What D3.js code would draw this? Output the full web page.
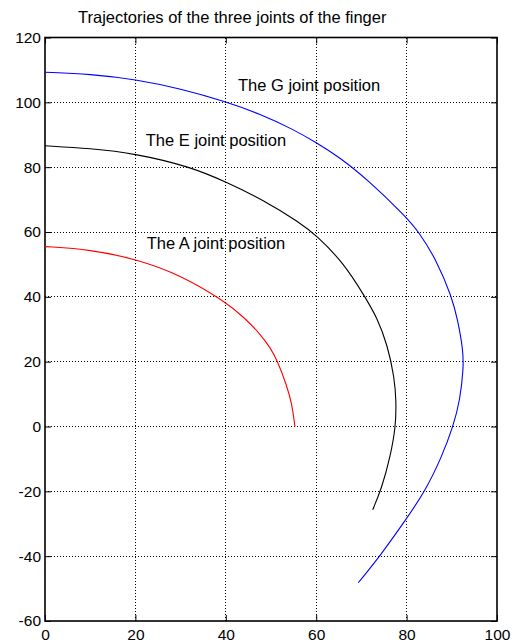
<!DOCTYPE html>
<html>
<head>
<meta charset="utf-8">
<script src="https://cdn.jsdelivr.net/npm/d3@7/dist/d3.min.js"></script>
<style>
  html, body { margin: 0; padding: 0; background: #fff; }
  svg { display: block; font-family: "Liberation Sans", Arial, sans-serif; }
</style>
</head>
<body>
<svg id="chart" width="517" height="644"></svg>
<script>
// Joint trajectories (x, y) in plot units
const jointA = [
  [0, 55.5], [10, 54.6], [20, 51.7], [30, 46.8], [40, 38.4], [44, 33.7],
  [47.6, 28.6], [50, 24], [51.5, 20], [53.5, 12.5], [54.6, 7.2], [55.3, 0]
];
const jointE = [
  [0, 86.6], [10, 85.8], [20, 84.2], [32, 80.2], [40, 75.5], [48.3, 69.9],
  [56.4, 62.9], [60, 59], [66, 50.6], [70.8, 40], [73.5, 33.5], [75.8, 25],
  [77.3, 15], [77.7, 8], [77.6, 0], [76.4, -9.3], [74.5, -19], [72.5, -25.7]
];
const jointG = [
  [0, 109.3], [10, 108.7], [20, 107.1], [30, 104.2], [40, 100.2], [47.6, 96.4],
  [55, 91.6], [60, 87.6], [65, 83.2], [71.5, 76], [80, 64.5], [82.7, 60], [86.6, 51.4],
  [90, 40], [91.3, 33], [92.5, 23.6], [92.6, 18], [91.8, 8], [90.3, 0],
  [87.8, -9.3], [84.1, -20], [79.8, -28.8], [74.1, -40], [69.3, -48.2]
];

const xTicks = [0, 20, 40, 60, 80, 100];
const yTicks = [-60, -40, -20, 0, 20, 40, 60, 80, 100, 120];

const series = [
  { name: "A", points: jointA, color: "#ff0000" },
  { name: "E", points: jointE, color: "#000000" },
  { name: "G", points: jointG, color: "#0000ff" }
];

// Annotation text anchored at (x, y) in plot units (left, baseline)
const labels = [
  { text: "The G joint position", x: 42.7, y: 103.4 },
  { text: "The E joint position", x: 22.3, y: 86.5 },
  { text: "The A joint position", x: 22.5, y: 54.9 }
];
const titleText = "Trajectories of the three joints of the finger";

const W = 517, H = 644;
const margin = { left: 45, right: 20, top: 37.5, bottom: 23 };

const svg = d3.select("#chart");

const x = d3.scaleLinear().domain([0, 100]).range([margin.left, W - margin.right]);
const y = d3.scaleLinear().domain([-60, 120]).range([H - margin.bottom, margin.top]);

// dotted grid
const grid = svg.append("g").attr("stroke", "#000").attr("stroke-width", 1)
  .attr("stroke-dasharray", "1,2").attr("shape-rendering", "crispEdges");
grid.selectAll("line.gx").data(xTicks.slice(1, -1)).join("line")
  .attr("x1", d => x(d)).attr("x2", d => x(d))
  .attr("y1", y(-60)).attr("y2", y(120));
grid.selectAll("line.gy").data(yTicks.slice(1, -1)).join("line")
  .attr("x1", x(0)).attr("x2", x(100))
  .attr("y1", d => y(d)).attr("y2", d => y(d));

// axes with inward ticks; plain hyphen for negatives
const fmt = d => String(d);
function styleAxis(g) {
  g.select(".domain").remove();
  g.selectAll(".tick line").attr("stroke", "#000").attr("stroke-width", 1);
  g.selectAll(".tick text").attr("fill", "#000").style("font-size", "15.5px")
    .style("font-family", "'Liberation Sans', Arial, sans-serif");
}
svg.append("g").attr("transform", `translate(0,${y(-60)})`)
  .call(d3.axisBottom(x).tickValues(xTicks).tickSize(-6).tickPadding(8).tickFormat(fmt))
  .call(styleAxis);
svg.append("g").attr("transform", `translate(${x(0)},0)`)
  .call(d3.axisLeft(y).tickValues(yTicks).tickSize(-6).tickPadding(4).tickFormat(fmt))
  .call(styleAxis);
svg.append("g").attr("transform", `translate(0,${y(120)})`)
  .call(d3.axisTop(x).tickValues(xTicks).tickSize(-6).tickFormat(""))
  .call(styleAxis);
svg.append("g").attr("transform", `translate(${x(100)},0)`)
  .call(d3.axisRight(y).tickValues(yTicks).tickSize(-6).tickFormat(""))
  .call(styleAxis);

// frame
svg.append("rect")
  .attr("x", x(0)).attr("y", y(120))
  .attr("width", x(100) - x(0)).attr("height", y(-60) - y(120))
  .attr("fill", "none").attr("stroke", "#000").attr("stroke-width", 1.6);

// trajectories (B-spline through the sampled positions)
const line = d3.line().x(d => x(d[0])).y(d => y(d[1])).curve(d3.curveBasis);
svg.append("g").selectAll("path").data(series).join("path")
  .attr("d", d => line(d.points))
  .attr("fill", "none")
  .attr("stroke", d => d.color)
  .attr("stroke-width", 1.1);

// annotations
svg.append("g").selectAll("text").data(labels).join("text")
  .attr("x", d => x(d.x)).attr("y", d => y(d.y))
  .style("font-size", "16.5px").attr("fill", "#000")
  .text(d => d.text);

svg.append("text")
  .attr("x", 78).attr("y", 22.5)
  .style("font-size", "16.5px").attr("fill", "#000")
  .text(titleText);
</script>
</body>
</html>
